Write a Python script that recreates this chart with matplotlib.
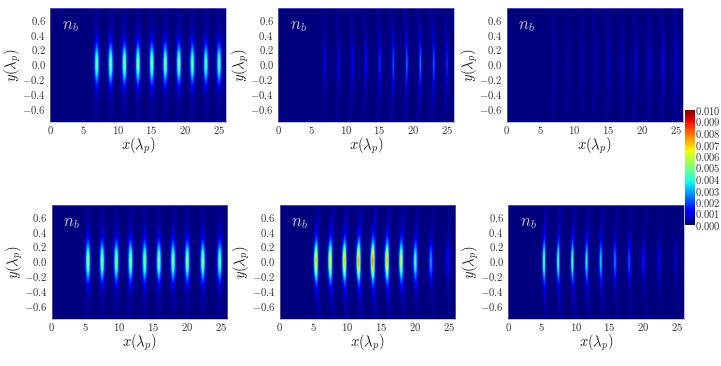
import numpy as np
import matplotlib
matplotlib.use("Agg")
import matplotlib.pyplot as plt

plt.rcParams['mathtext.fontset'] = 'cm'
plt.rcParams['font.family'] = ['cmr10', 'DejaVu Serif']
plt.rcParams['axes.formatter.use_mathtext'] = True

# bunch positions (lambda_p)
x_top = [6.9, 8.95, 11.0, 13.0, 15.05, 17.05, 19.05, 21.05, 23.05, 25.0]
x_bot = [5.3, 7.4, 9.5, 11.6, 13.7, 15.8, 17.9, 20.0, 22.3, 24.8]

# peak density of each bunch, one list per panel
amp_1 = [.0050, .0053, .0054, .0054, .0054, .0052, .0052, .0050, .0048, .0048]
amp_2 = [.0013, .0013, .0014, .0015, .0019, .0023, .0025, .0027, .0024, .0018]
amp_3 = [.0004, .0004, .0005, .0005, .0006, .0006, .0007, .0008, .0009, .0009]
amp_4 = [.0056, .0054, .0054, .0054, .0053, .0053, .0053, .0054, .0054, .0050]
amp_5 = [.0072, .0068, .0072, .0078, .0080, .0072, .0062, .0045, .0028, .0014]
amp_6 = [.0052, .0048, .0048, .0042, .0036, .0027, .0022, .0016, .0012, .0008]

curv = [0.0, -0.6, -0.3, 0.0, 0.8, 0.8]  # bend of the bunches
sigx = [0.23, 0.13, 0.18, 0.23, 0.21, 0.16]  # width of the bunches
cola = [0.12, 0.45, 0.7, 0.12, 0.15, 0.22]  # weight of the faint tails

xticks = [0, 5, 10, 15, 20, 25]
yticks = [-0.6, -0.4, -0.2, 0.0, 0.2, 0.4, 0.6]
cticks = [0.000, 0.001, 0.002, 0.003, 0.004, 0.005, 0.006, 0.007, 0.008, 0.009, 0.010]

# axes corners in pixels: left, top
corners = [(50, 8), (278, 8), (506.5, 8), (51.5, 205), (279.5, 205), (508, 205)]
W, H = 721.0, 366.0
XMAX = 26.0
YMIN, YMAX = -0.78, 0.76


def campo(xs, amps, c, sx, t):
    xg = np.linspace(0, XMAX, 520)
    yg = np.linspace(YMIN, YMAX, 200)
    X, Y = np.meshgrid(xg, yg)
    perfil = np.exp(-Y**2 / (2 * 0.17**2)) * (1 - t) + t * np.exp(-Y**2 / (2 * 0.5**2))
    n = np.zeros_like(X)
    for x0, a in zip(xs, amps):
        n += a * perfil * np.exp(-(X - x0 - c * Y**2)**2 / (2 * sx**2))
    return n


fig = plt.figure(figsize=(7.21, 3.66), dpi=100)
amps = [amp_1, amp_2, amp_3, amp_4, amp_5, amp_6]
for i in range(6):
    xs = x_top if i < 3 else x_bot
    l, t = corners[i]
    ax = fig.add_axes([l / W, 1 - (t + 114) / H, 176 / W, 114 / H])
    im = ax.imshow(campo(xs, amps[i], curv[i], sigx[i], cola[i]), origin='lower', aspect='auto',
                   extent=[0, XMAX, YMIN, YMAX], cmap='jet', vmin=0, vmax=0.01,
                   interpolation='bilinear')
    ax.set_xticks(xticks)
    ax.set_xticklabels(['$%d$' % v for v in xticks])
    ax.set_yticks(yticks)
    ax.set_yticklabels(['$%.1f$' % v for v in yticks])
    ax.tick_params(length=0, labelsize=7.7, colors='#333333', pad=3)
    ax.tick_params(axis='x', pad=1.5)
    ax.set_xlabel(r'$x(\lambda_p)$', fontsize=10.5, labelpad=0, color='#222222')
    ax.set_ylabel(r'$y(\lambda_p)$', fontsize=10.5, color='#222222')
    ax.yaxis.set_label_coords(-27 / 176, 0.5)
    ax.text(1.7, 0.47, r'$n_b$', fontsize=12, color='#c8c8c8')
    for s in ax.spines.values():
        s.set_linewidth(0.4)
        s.set_color('#8a8ac0')

cax = fig.add_axes([685 / W, 1 - 225 / H, 9.5 / W, 115 / H])
cb = fig.colorbar(im, cax=cax, ticks=cticks)
cb.ax.set_yticklabels(['$%.3f$' % v for v in cticks])
cb.ax.tick_params(length=0, labelsize=7.6, colors='#333333', pad=0.5)
cb.outline.set_visible(False)

fig.savefig('out.png', dpi=100)
